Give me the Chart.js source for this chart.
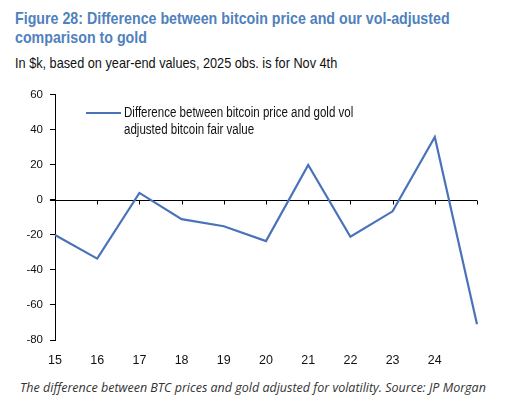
<!DOCTYPE html>
<html lang="en">
<head>
    <meta charset="UTF-8">
    <title>Bitcoin vs gold vol-adjusted fair value</title>
    <script src="https://cdn.jsdelivr.net/npm/chart.js"></script>
    <style>
        body {
            margin: 0;
            padding: 0;
            width: 506px;
            height: 404px;
            position: relative;
            background: #fff;
            font-family: "Liberation Sans", Arial, sans-serif;
            overflow: hidden;
        }
        /* the original uses a narrow font, so text is squeezed to its width */
        .fit {
            position: absolute;
            white-space: nowrap;
            transform-origin: 0 0;
        }
        .title {
            left: 15px;
            top: 9px;
            font-size: 17px;
            font-weight: bold;
            line-height: 19px;
            color: #4f81bd;
        }
        .subtitle {
            left: 15px;
            top: 54px;
            font-size: 15px;
            color: #111;
        }
        .legend-swatch {
            position: absolute;
            left: 86px;
            top: 112px;
            width: 35px;
            height: 2px;
            background: #4a72b9;
        }
        .legend-text {
            left: 124px;
            top: 104px;
            font-size: 14px;
            line-height: 16.5px;
            color: #111;
        }
        .caption {
            position: absolute;
            left: 0;
            width: 506px;
            top: 379px;
            text-align: center;
            font-family: "Open Sans", sans-serif;
            font-style: italic;
            font-size: 12.5px;
            color: #333;
            white-space: nowrap;
        }
        #wrap {
            position: absolute;
            left: 0;
            top: 81px;
            width: 506px;
            height: 293px;
        }
    </style>
</head>
<body>
    <div class="fit title" data-w="435">Figure 28: Difference between bitcoin price and our vol-adjusted<br>comparison to gold</div>
    <div class="fit subtitle" data-w="322">In $k, based on year-end values, 2025 obs. is for Nov 4th</div>
    <div id="wrap"><canvas id="diffChart"></canvas></div>
    <div class="legend-swatch"></div>
    <div class="fit legend-text" data-w="229">Difference between bitcoin price and gold vol<br>adjusted bitcoin fair value</div>
    <div class="caption">The difference between BTC prices and gold adjusted for volatility. Source: JP Morgan</div>

    <script>
        // years (last point is 2025, left without a label like the original)
        const years = ['15', '16', '17', '18', '19', '20', '21', '22', '23', '24', ''];
        // $k, bitcoin price minus gold vol-adjusted fair value
        const priceDiff = [-20, -33.5, 4, -11, -15, -23.5, 20, -21, -6.5, 36, -71];
        const yTicks = [-80, -60, -40, -20, 0, 20, 40, 60];

        const lineColor = '#4a72b9';

        // squeeze text blocks to the widths measured on the original
        document.querySelectorAll('.fit').forEach(el => {
            const target = parseFloat(el.dataset.w);
            el.style.transform = `scaleX(${target / el.scrollWidth})`;
        });

        // zero line with small ticks hanging under it, like the excel style axis
        const zeroAxis = {
            id: 'zeroAxis',
            beforeDatasetsDraw(chart) {
                const x = chart.scales.x;
                const y = chart.scales.y;
                const y0 = Math.round(y.getPixelForValue(0)) + 0.5;
                const ctx = chart.ctx;
                ctx.save();
                ctx.strokeStyle = '#000';
                ctx.lineWidth = 1;
                ctx.beginPath();
                ctx.moveTo(x.getPixelForValue(0) - 5, y0);
                ctx.lineTo(x.getPixelForValue(years.length - 1), y0);
                for (let i = 1; i < years.length; i++) {
                    const px = Math.round(x.getPixelForValue(i)) + 0.5;
                    ctx.moveTo(px, y0);
                    ctx.lineTo(px, y0 + 4);
                }
                ctx.stroke();
                ctx.restore();
            }
        };

        const ctx = document.getElementById('diffChart').getContext('2d');
        const diffChart = new Chart(ctx, {
            type: 'line',
            data: {
                labels: years,
                datasets: [{
                    label: 'Difference between bitcoin price and gold vol adjusted bitcoin fair value',
                    data: priceDiff,
                    borderColor: lineColor,
                    borderWidth: 2.2,
                    pointRadius: 0,
                    tension: 0,
                    fill: false
                }]
            },
            options: {
                responsive: true,
                maintainAspectRatio: false,
                animation: false,
                layout: { padding: { top: 7, right: 29, left: 0, bottom: 0 } },
                plugins: {
                    legend: { display: false },
                    tooltip: { enabled: false }
                },
                scales: {
                    x: {
                        type: 'category',
                        offset: false,
                        grid: { display: false },
                        border: { display: false },
                        ticks: {
                            color: '#111',
                            font: { family: '"Liberation Sans", Arial, sans-serif', size: 12.5 },
                            padding: 5,
                            maxRotation: 0,
                            autoSkip: false
                        },
                        afterFit(scale) { scale.height = 34; }
                    },
                    y: {
                        min: -80,
                        max: 60,
                        afterBuildTicks(scale) {
                            scale.ticks = yTicks.map(v => ({ value: v }));
                        },
                        grid: {
                            drawOnChartArea: false,
                            drawTicks: true,
                            tickLength: 5,
                            color: '#000'
                        },
                        border: { display: true, color: '#000', width: 1 },
                        ticks: {
                            color: '#111',
                            font: { family: '"Liberation Sans", Arial, sans-serif', size: 11.5 },
                            padding: 7
                        },
                        afterFit(scale) { scale.width = 55; }
                    }
                }
            },
            plugins: [zeroAxis]
        });
    </script>
</body>
</html>
